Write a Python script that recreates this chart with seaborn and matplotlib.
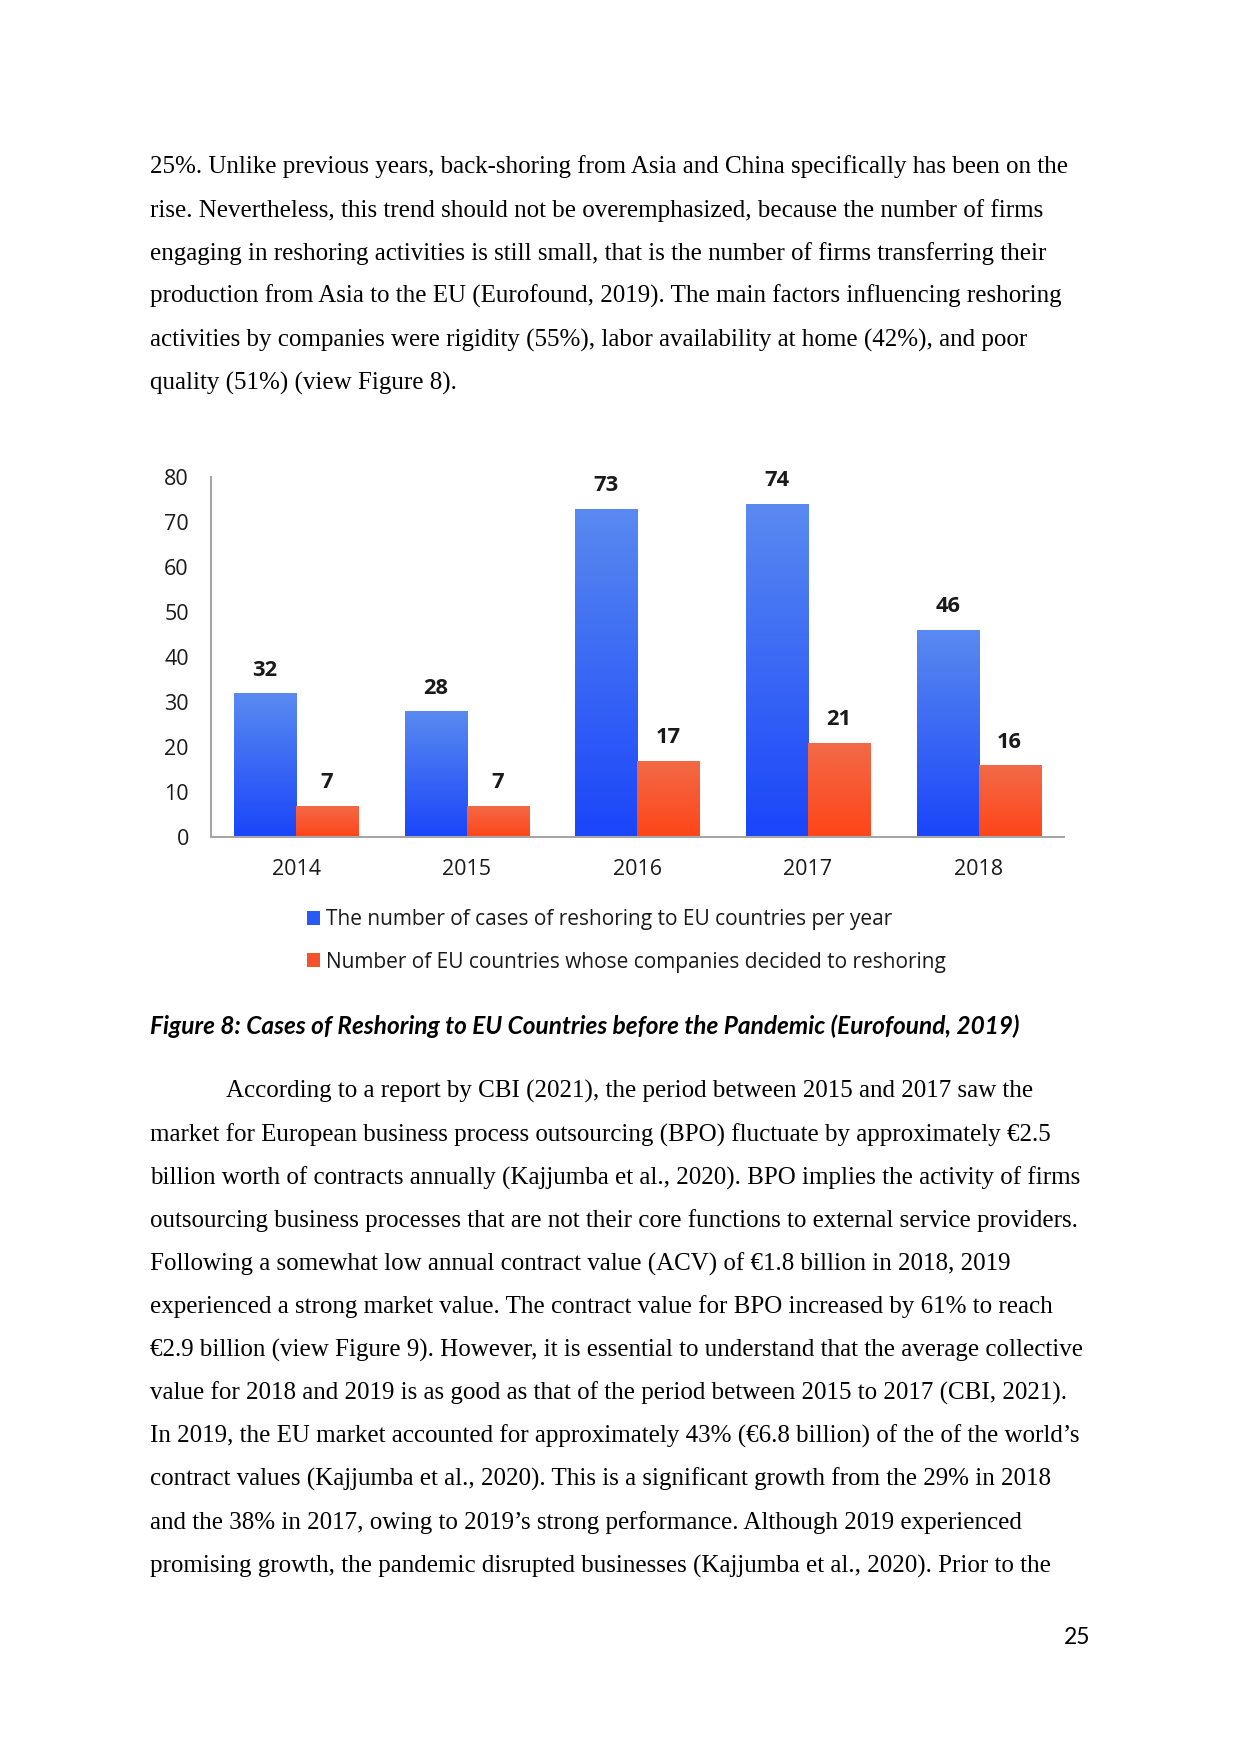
import numpy as np
import pandas as pd
import seaborn as sns
import matplotlib.pyplot as plt
from matplotlib.colors import LinearSegmentedColormap
from matplotlib.patches import Patch

# chart data
years = ['2014', '2015', '2016', '2017', '2018']
cases = [32, 28, 73, 74, 46]
countries = [7, 7, 17, 21, 16]
series = ['The number of cases of reshoring to EU countries per year',
          'Number of EU countries whose companies decided to reshoring']
y_ticks = [0, 10, 20, 30, 40, 50, 60, 70, 80]

# page text
para1 = [
    '25%. Unlike previous years, back-shoring from Asia and China specifically has been on the',
    'rise. Nevertheless, this trend should not be overemphasized, because the number of firms',
    'engaging in reshoring activities is still small, that is the number of firms transferring their',
    'production from Asia to the EU (Eurofound, 2019). The main factors influencing reshoring',
    'activities by companies were rigidity (55%), labor availability at home (42%), and poor',
    'quality (51%) (view Figure 8).',
]
para2 = [
    'According to a report by CBI (2021), the period between 2015 and 2017 saw the',
    'market for European business process outsourcing (BPO) fluctuate by approximately €2.5',
    'billion worth of contracts annually (Kajjumba et al., 2020). BPO implies the activity of firms',
    'outsourcing business processes that are not their core functions to external service providers.',
    'Following a somewhat low annual contract value (ACV) of €1.8 billion in 2018, 2019',
    'experienced a strong market value. The contract value for BPO increased by 61% to reach',
    '€2.9 billion (view Figure 9). However, it is essential to understand that the average collective',
    'value for 2018 and 2019 is as good as that of the period between 2015 to 2017 (CBI, 2021).',
    'In 2019, the EU market accounted for approximately 43% (€6.8 billion) of the of the world’s',
    'contract values (Kajjumba et al., 2020). This is a significant growth from the 29% in 2018',
    'and the 38% in 2017, owing to 2019’s strong performance. Although 2019 experienced',
    'promising growth, the pandemic disrupted businesses (Kajjumba et al., 2020). Prior to the',
]
caption = 'Figure 8: Cases of Reshoring to EU Countries before the Pandemic (Eurofound, 2019)'
page_no = '25'

df = pd.DataFrame({
    'year': years * 2,
    'value': cases + countries,
    'series': [series[0]] * len(years) + [series[1]] * len(years),
})

sns.set_style('white')
plt.rcParams['font.family'] = ['Open Sans', 'DejaVu Sans']

W, H = 1240, 1754
fig = plt.figure(figsize=(W / 150, H / 150), dpi=150)

def px(x, y):
    return x / W, 1 - y / H

# body text
serif = ['Liberation Serif', 'DejaVu Serif']
for i, line in enumerate(para1):
    fig.text(*px(150, 173.3 + i * 43.2), line, family=serif, fontsize=12,
             va='baseline', ha='left', color='black')
for i, line in enumerate(para2):
    x0 = 226 if i == 0 else 150
    fig.text(*px(x0, 1098 + i * 43.1), line, family=serif, fontsize=12,
             va='baseline', ha='left', color='black')

# chart
ax = fig.add_axes([210.7 / W, 1 - 837 / H, (1064 - 210.7) / W, (837 - 477) / H])
colors = ['#2a5af5', '#f5542a']
sns.barplot(data=df, x='year', y='value', hue='series', palette=colors,
            width=0.727, saturation=1, ax=ax, legend=False, linewidth=0)

blue_cm = LinearSegmentedColormap.from_list('b', ['#1a45fa', '#5a8af0'])
red_cm = LinearSegmentedColormap.from_list('r', ['#ff4518', '#f26a48'])
grad = np.linspace(0, 1, 256).reshape(-1, 1)
for cont, cm in zip(ax.containers, [blue_cm, red_cm]):
    for bar in cont:
        x0, w, h = bar.get_x(), bar.get_width(), bar.get_height()
        im = ax.imshow(grad, extent=[x0, x0 + w, 0, h], origin='lower',
                       aspect='auto', cmap=cm, zorder=bar.get_zorder() + 0.1)
        im.set_clip_path(bar)
    ax.bar_label(cont, padding=6, fontsize=10.5, fontweight='bold', color='#1a1a1a')

ax.set_xlim(-0.5, len(years) - 0.5)
ax.set_ylim(0, 80)
ax.set_yticks(y_ticks)
ax.set_xlabel('')
ax.set_ylabel('')
sns.despine(ax=ax)
for s in ['left', 'bottom']:
    ax.spines[s].set_color('#a6a6a6')
    ax.spines[s].set_linewidth(1.0)
ax.tick_params(axis='both', length=0, labelsize=10.3, labelcolor='#1a1a1a')
ax.tick_params(axis='y', pad=10.5)
ax.tick_params(axis='x', pad=10.5)

handles = [Patch(facecolor=c, edgecolor='none') for c in colors]
fig.legend(handles, series, loc='center left', bbox_to_anchor=px(307, 941),
           frameon=False, fontsize=10, handlelength=0.6, handleheight=0.65,
           handletextpad=0.3, labelspacing=1.03, borderpad=0, borderaxespad=0,
           labelcolor='#1a1a1a')

# caption and page number
fig.text(*px(150, 1033.5), caption, family=['Lato', 'DejaVu Sans'], fontsize=11.7,
         fontweight='bold', style='italic', va='baseline', ha='left', color='black')
fig.text(*px(1090, 1643.5), page_no, family=['Lato', 'DejaVu Sans'], fontsize=11,
         va='baseline', ha='right', color='black')

fig.savefig('out.png', dpi=150)
